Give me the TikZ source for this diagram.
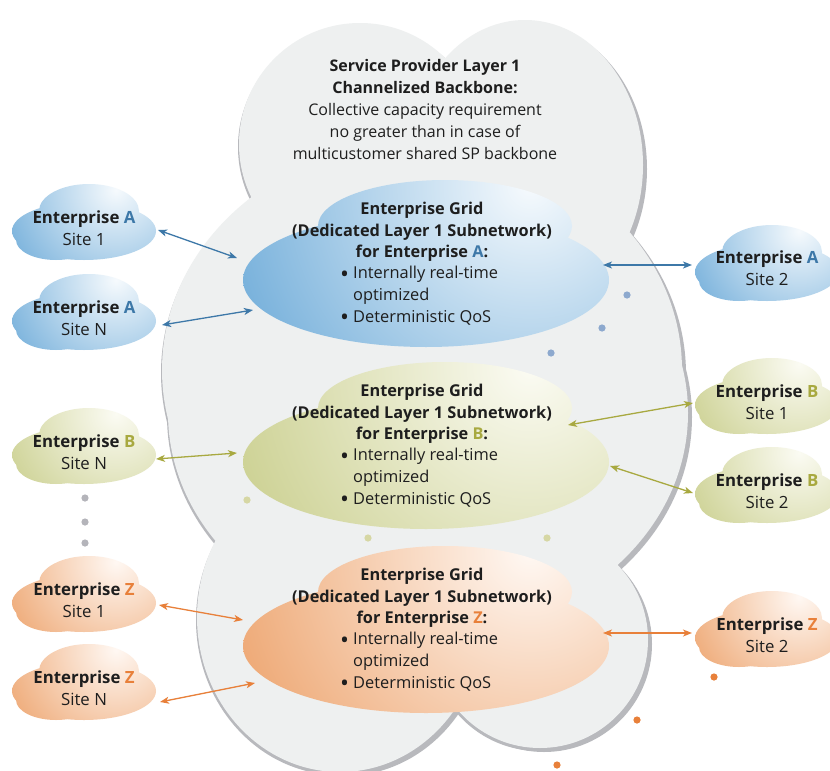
\documentclass[tikz,border=0pt]{standalone}
\usepackage{fontspec}
\setmainfont{Open Sans}
\usetikzlibrary{arrows.meta}
\definecolor{bgcloud}{HTML}{EEF0F0}
\definecolor{bgshadow}{HTML}{B8B9BD}
\definecolor{blueD}{HTML}{6FACD9}
\definecolor{blueL}{HTML}{F6FAFD}
\definecolor{oliveD}{HTML}{CACF8E}
\definecolor{oliveL}{HTML}{FBFBF3}
\definecolor{peachD}{HTML}{EDA46E}
\definecolor{peachL}{HTML}{FFF8F3}
\definecolor{blueA}{HTML}{3D78A8}
\definecolor{oliveA}{HTML}{A8A940}
\definecolor{orangeA}{HTML}{E8803A}
\definecolor{blueDot}{HTML}{8DA9CE}
\definecolor{oliveDot}{HTML}{D6D7A4}
\definecolor{grayDot}{HTML}{B4B4BA}
\definecolor{txt}{HTML}{1E1E1E}

\newcommand{\bigbul}{\raisebox{-0.2em}{\scalebox{1.45}{\textbullet}}\hspace{0.25em}}
\newcommand{\bigcloudpath}{(360,144) circle[radius=121]
 (525,165) ellipse[x radius=118, y radius=145]
 (422,370) ellipse[x radius=260, y radius=229]
 (428,413) ellipse[x radius=260, y radius=222]
 (540,640) circle[radius=108]
 (340,617) ellipse[x radius=143, y radius=155]}
\newcommand{\gridcloud}[3]{%
 \begin{scope}[shift={(0,#1)}]
  \begin{scope}
   \clip (426,280) ellipse[x radius=183, y radius=67] (445,226) ellipse[x radius=127, y radius=46];
   \shade[inner color=#3, outer color=#2] (530,185) circle[radius=330];
  \end{scope}
 \end{scope}}
\newcommand{\sitecloud}[4]{%
 \begin{scope}[shift={(#1,#2)}]
  \begin{scope}
   \clip (0,3) ellipse[x radius=72, y radius=29] (5,-17) ellipse[x radius=50, y radius=27] (-28,12) ellipse[x radius=40, y radius=20];
   \shade[inner color=#4, outer color=#3] (32,-38) circle[radius=130];
  \end{scope}
 \end{scope}}

\begin{document}
\begin{tikzpicture}[x=1pt,y=-1pt,
  sitetext/.style={align=center, text=txt, font=\fontsize{16.8}{22.5}\selectfont, inner sep=0pt},
  gridtitle/.style={align=center, text=txt, font=\bfseries\fontsize{16.3}{21.5}\selectfont, inner sep=0pt},
  gridbul/.style={align=left, text=txt, font=\fontsize{16.4}{21.8}\selectfont, inner sep=0pt, anchor=west},
  sptext/.style={align=center, text=txt, font=\fontsize{16}{22}\selectfont, inner sep=0pt},
  conn/.style={line width=1.3pt, {Stealth[length=9pt,width=7pt,inset=2.5pt]}-{Stealth[length=9pt,width=7pt,inset=2.5pt]}},
  dotmark/.style={radius=3.6}
]
\fill[white] (0,0) rectangle (830,771);
\useasboundingbox (0,0) rectangle (830,771);

% service provider backbone cloud
\fill[bgshadow, shift={(4,4)}] \bigcloudpath;
\fill[bgshadow, shift={(-1,3)}] \bigcloudpath;
\fill[bgcloud] \bigcloudpath;

% enterprise grid clouds
\gridcloud{0}{blueD}{blueL}
\gridcloud{182}{oliveD}{oliveL}
\gridcloud{366}{peachD}{peachL}

% site clouds
\sitecloud{84}{228}{blueD}{blueL}
\sitecloud{84}{318}{blueD}{blueL}
\sitecloud{767}{269}{blueD}{blueL}
\sitecloud{767}{402}{oliveD}{oliveL}
\sitecloud{767}{491}{oliveD}{oliveL}
\sitecloud{84}{452}{oliveD}{oliveL}
\sitecloud{84}{600}{peachD}{peachL}
\sitecloud{84}{688}{peachD}{peachL}
\sitecloud{767}{635}{peachD}{peachL}

% texts
\node[sptext] (sp) at (425,109) {\textbf{Service Provider Layer 1}\\\textbf{Channelized Backbone:}\\Collective capacity requirement\\no greater than in case of\\multicustomer shared SP backbone};

\node[gridtitle] (ga) at (422,232) {Enterprise Grid\\(Dedicated Layer 1 Subnetwork)\\for Enterprise \textcolor{blueA}{A}:};
\node[gridbul] (gab) at (340,296) {\bigbul Internally real-time\\\hphantom{\bigbul}optimized\\\bigbul Deterministic QoS};
\node[gridtitle] (gb) at (422,414) {Enterprise Grid\\(Dedicated Layer 1 Subnetwork)\\for Enterprise \textcolor{oliveA}{B}:};
\node[gridbul] (gbb) at (340,478) {\bigbul Internally real-time\\\hphantom{\bigbul}optimized\\\bigbul Deterministic QoS};
\node[gridtitle] (gz) at (422,598) {Enterprise Grid\\(Dedicated Layer 1 Subnetwork)\\for Enterprise \textcolor{orangeA}{Z}:};
\node[gridbul] (gzb) at (340,662) {\bigbul Internally real-time\\\hphantom{\bigbul}optimized\\\bigbul Deterministic QoS};

\node[sitetext] (a1) at (84,228) {\textbf{Enterprise \textcolor{blueA}{A}}\\Site 1};
\node[sitetext] (aN) at (84,318) {\textbf{Enterprise \textcolor{blueA}{A}}\\Site N};
\node[sitetext] (a2) at (767,268) {\textbf{Enterprise \textcolor{blueA}{A}}\\Site 2};
\node[sitetext] (b1) at (767,402) {\textbf{Enterprise \textcolor{oliveA}{B}}\\Site 1};
\node[sitetext] (b2) at (767,491) {\textbf{Enterprise \textcolor{oliveA}{B}}\\Site 2};
\node[sitetext] (bN) at (84,452) {\textbf{Enterprise \textcolor{oliveA}{B}}\\Site N};
\node[sitetext] (z1) at (84,600) {\textbf{Enterprise \textcolor{orangeA}{Z}}\\Site 1};
\node[sitetext] (zN) at (84,688) {\textbf{Enterprise \textcolor{orangeA}{Z}}\\Site N};
\node[sitetext] (z2) at (767,635) {\textbf{Enterprise \textcolor{orangeA}{Z}}\\Site 2};

% connector end points
\coordinate (a1e) at (158,230); \coordinate (ga1) at (237,258);
\coordinate (aNe) at (162,325); \coordinate (gaN) at (253,310);
\coordinate (ga2) at (603,265); \coordinate (a2e) at (692,265);
\coordinate (bNe) at (156,459); \coordinate (gbN) at (237,453);
\coordinate (gb1) at (568,425); \coordinate (b1e) at (693,403);
\coordinate (gb2) at (610,466); \coordinate (b2e) at (693,493);
\coordinate (z1e) at (159,605); \coordinate (gz1) at (243,620);
\coordinate (zNe) at (160,702); \coordinate (gzN) at (255,683);
\coordinate (gz2) at (603,633); \coordinate (z2e) at (692,633);

\draw[conn, blueA] (a1e) -- (ga1);
\draw[conn, blueA] (aNe) -- (gaN);
\draw[conn, blueA] (ga2) -- (a2e);
\draw[conn, oliveA] (bNe) -- (gbN);
\draw[conn, oliveA] (gb1) -- (b1e);
\draw[conn, oliveA] (gb2) -- (b2e);
\draw[conn, orangeA] (z1e) -- (gz1);
\draw[conn, orangeA] (zNe) -- (gzN);
\draw[conn, orangeA] (gz2) -- (z2e);

% decorative dots
\fill[blueDot] (627,295) circle[dotmark] (602,328) circle[dotmark] (551,353) circle[dotmark];
\fill[oliveDot] (247,500) circle[dotmark] (368,538) circle[dotmark] (547,538) circle[dotmark];
\fill[orangeA] (714,677) circle[dotmark] (637,720) circle[dotmark] (557,765) circle[dotmark];
\fill[grayDot] (85,498) circle[dotmark] (85,522) circle[dotmark] (85,543) circle[dotmark];
\end{tikzpicture}
\end{document}
